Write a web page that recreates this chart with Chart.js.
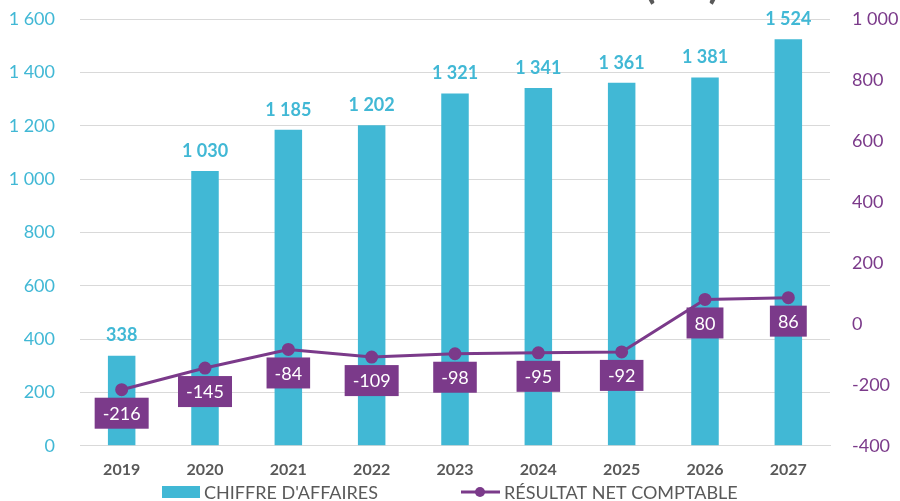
<!DOCTYPE html>
<html>
<head>
<meta charset="utf-8">
<script src="https://cdn.jsdelivr.net/npm/chart.js@4/dist/chart.umd.min.js"></script>
<style>
    html, body { margin: 0; padding: 0; background: #fff; }
    #wrap { width: 900px; height: 501px; }
</style>
</head>
<body>
<div id="wrap"><canvas id="comboChart"></canvas></div>
<script>
// Data
const years = ['2019', '2020', '2021', '2022', '2023', '2024', '2025', '2026', '2027'];
const chiffreAffaires = [338, 1030, 1185, 1202, 1321, 1341, 1361, 1381, 1524];
const resultatNet = [-216, -145, -84, -109, -98, -95, -92, 80, 86];
const seriesNames = ["CHIFFRE D'AFFAIRES", 'RÉSULTAT NET COMPTABLE'];
const titleFragment = '(K€)';

const CYAN = '#41B8D5';
const PURPLE = '#7B3A8A';
const GREY = '#595959';
const FONT = 'Lato, "Open Sans", sans-serif';

// French style thousands: 1 600
function fmt(v) {
    return String(v).replace(/\B(?=(\d{3})+(?!\d))/g, ' ');
}

/**
 * Value labels, clipped title and the bottom legend
 */
const chartDecor = {
    id: 'chartDecor',
    afterDatasetsDraw(chart) {
        const ctx = chart.ctx;
        ctx.save();

        // bar labels
        const barMeta = chart.getDatasetMeta(0);
        ctx.font = 'bold 18px ' + FONT;
        ctx.fillStyle = CYAN;
        ctx.textAlign = 'center';
        ctx.textBaseline = 'middle';
        barMeta.data.forEach((bar, i) => {
            ctx.fillText(fmt(chiffreAffaires[i]), bar.x, bar.y - 20);
        });

        // line labels in purple boxes
        const lineMeta = chart.getDatasetMeta(1);
        ctx.font = '18px ' + FONT;
        lineMeta.data.forEach((pt, i) => {
            const txt = fmt(resultatNet[i]);
            const w = ctx.measureText(txt).width + 16;
            const h = 31;
            const top = pt.y + 8;
            ctx.fillStyle = PURPLE;
            ctx.fillRect(pt.x - w / 2, top, w, h);
            ctx.fillStyle = '#fff';
            ctx.fillText(txt, pt.x, top + h / 2 + 1);
        });
        ctx.restore();
    },
    afterDraw(chart) {
        const ctx = chart.ctx;
        ctx.save();

        // title is cut off by the top edge in the original
        ctx.font = 'bold 42px ' + FONT;
        ctx.fillStyle = GREY;
        ctx.textAlign = 'center';
        ctx.textBaseline = 'alphabetic';
        ctx.fillText(titleFragment, 682, -2);

        // legend
        const ly = 492;
        ctx.font = '18px ' + FONT;
        ctx.textBaseline = 'middle';
        ctx.textAlign = 'left';

        ctx.fillStyle = CYAN;
        ctx.fillRect(162, ly - 6, 38, 12);
        ctx.fillStyle = GREY;
        ctx.fillText(seriesNames[0], 204, ly + 1);

        ctx.strokeStyle = PURPLE;
        ctx.lineWidth = 3;
        ctx.beginPath();
        ctx.moveTo(461, ly);
        ctx.lineTo(500, ly);
        ctx.stroke();
        ctx.fillStyle = PURPLE;
        ctx.beginPath();
        ctx.arc(480, ly, 5, 0, Math.PI * 2);
        ctx.fill();
        ctx.fillStyle = GREY;
        ctx.fillText(seriesNames[1], 504, ly + 1);

        ctx.restore();
    }
};

new Chart(document.getElementById('comboChart'), {
    type: 'bar',
    data: {
        labels: years,
        datasets: [
            {
                label: seriesNames[0],
                data: chiffreAffaires,
                backgroundColor: CYAN,
                borderWidth: 0,
                barPercentage: 0.33,
                categoryPercentage: 1,
                yAxisID: 'y',
                order: 2
            },
            {
                type: 'line',
                label: seriesNames[1],
                data: resultatNet,
                borderColor: PURPLE,
                backgroundColor: PURPLE,
                borderWidth: 3,
                pointRadius: 5,
                pointBackgroundColor: PURPLE,
                tension: 0,
                yAxisID: 'y1',
                order: 1
            }
        ]
    },
    options: {
        responsive: true,
        maintainAspectRatio: false,
        animation: false,
        layout: { padding: { top: 19, left: 0, right: 0, bottom: 16 } },
        plugins: {
            tooltip: { enabled: false },
            legend: { display: false }
        },
        scales: {
            x: {
                grid: { display: false },
                border: { color: '#d9d9d9' },
                ticks: {
                    color: GREY,
                    font: { family: FONT, size: 16, weight: 'bold' },
                    padding: 6
                }
            },
            y: {
                position: 'left',
                min: 0,
                max: 1600,
                ticks: {
                    stepSize: 200,
                    color: CYAN,
                    font: { family: FONT, size: 18 },
                    padding: 3,
                    callback: v => fmt(v)
                },
                grid: { color: '#d9d9d9', drawTicks: true, tickLength: 22, tickColor: 'rgba(0,0,0,0)' },
                border: { display: false },
                afterFit(scale) { scale.width = 80; }
            },
            y1: {
                position: 'right',
                min: -400,
                max: 1000,
                ticks: {
                    stepSize: 200,
                    color: PURPLE,
                    font: { family: FONT, size: 18 },
                    padding: 3,
                    callback: v => fmt(v)
                },
                grid: { drawOnChartArea: false, drawTicks: true, tickLength: 19, tickColor: 'rgba(0,0,0,0)' },
                border: { display: false },
                afterFit(scale) { scale.width = 70; }
            }
        }
    },
    plugins: [chartDecor]
});
</script>
</body>
</html>
